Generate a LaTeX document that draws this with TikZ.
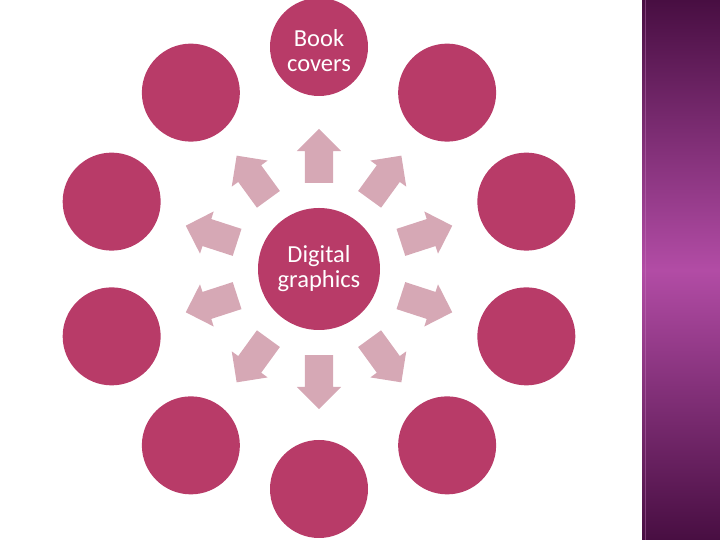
\documentclass[tikz,border=0pt]{standalone}
\usepackage{fontspec}
\setmainfont{Carlito}
\usetikzlibrary{shapes.arrows}
\definecolor{rosa}{RGB}{184,59,104}
\definecolor{pale}{RGB}{214,168,181}
\definecolor{plumdark}{RGB}{72,14,66}
\definecolor{plumlight}{RGB}{178,76,165}

\begin{document}
\begin{tikzpicture}[x=1pt, y=1pt,
    bubble/.style={circle, fill=rosa, minimum size=98pt, inner sep=0pt, text=white, align=center, font=\fontsize{24.5}{25}\selectfont},
    pointer/.style={single arrow, fill=pale, minimum height=54pt, inner xsep=0pt, inner ysep=14pt, single arrow head extend=8pt, single arrow head indent=0pt}]
    \useasboundingbox (0,0) rectangle (720,540);
    % side band
    \shade[top color=plumdark, bottom color=plumdark, middle color=plumlight] (642,0) rectangle (720,540);
    \draw[plumlight!70!white, opacity=0.4, line width=1pt] (645,0) -- (645,540);
    % hub and outer bubbles
    \node[bubble, minimum size=122pt] (hub) at (319,271) {Digital\\graphics};
    \path (hub) ++(90:222) node[bubble] (covers) {\raisebox{-13pt}[0pt][0pt]{\begin{tabular}{@{}c@{}}Book\\covers\end{tabular}}};
    \path (hub) ++(54:218) node[bubble] (b54) {};
    \path (hub) ++(18:218) node[bubble] (b18) {};
    \path (hub) ++(-18:218) node[bubble] (bm18) {};
    \path (hub) ++(-54:218) node[bubble] (bm54) {};
    \path (hub) ++(-90:220) node[bubble] (bm90) {};
    \path (hub) ++(-126:218) node[bubble] (bm126) {};
    \path (hub) ++(-162:218) node[bubble] (bm162) {};
    \path (hub) ++(162:218) node[bubble] (b162) {};
    \path (hub) ++(126:218) node[bubble] (b126) {};
    % block arrows
    \path (hub) ++(90:106) node[pointer, rotate=90] (a90) {};
    \path (hub) ++(54:106) node[pointer, rotate=54] (a54) {};
    \path (hub) ++(18:106) node[pointer, rotate=18] (a18) {};
    \path (hub) ++(-18:106) node[pointer, rotate=-18] (am18) {};
    \path (hub) ++(-54:106) node[pointer, rotate=-54] (am54) {};
    \path (hub) ++(-90:106) node[pointer, rotate=-90] (am90) {};
    \path (hub) ++(-126:106) node[pointer, rotate=-126] (am126) {};
    \path (hub) ++(-162:106) node[pointer, rotate=-162] (am162) {};
    \path (hub) ++(162:106) node[pointer, rotate=162] (a162) {};
    \path (hub) ++(126:106) node[pointer, rotate=126] (a126) {};
\end{tikzpicture}
\end{document}
